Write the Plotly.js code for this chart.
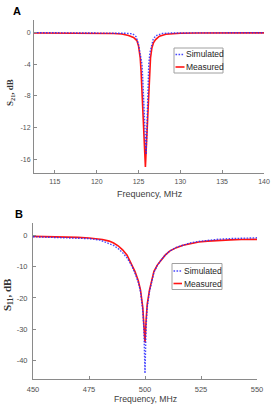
<!DOCTYPE html>
<html>
<head>
<meta charset="utf-8">
<script src="https://cdn.plot.ly/plotly-3.0.1.min.js"></script>
<style>
html,body{margin:0;padding:0;background:#fff;}
#chart{width:272px;height:409px;}
</style>
</head>
<body>
<div id="chart"></div>
<script>
// ---- Panel A: S21 ----
var freqA_sim = [112.5,118,122,123.5,124.3,124.7,125.0,125.2,125.41,125.5,125.6,125.72,125.82,125.9,125.98,126.05,126.1,126.16,126.22,126.35,126.55,126.75,127.04,127.85,129,132,140];
var s21_sim  = [0,-0.01,-0.03,-0.08,-0.15,-0.5,-1.5,-2.6,-4.0,-5.8,-8.2,-10.8,-12.9,-15.4,-12.9,-10.5,-8.2,-6.0,-4.0,-2.6,-1.5,-0.85,-0.4,-0.1,-0.04,-0.02,-0.01];
var freqA_meas = [112.5,116,120,122,123,123.8,124.4,124.8,125.0,125.2,125.3,125.4,125.5,125.6,125.7,125.82,125.95,126.06,126.15,126.22,126.32,126.43,126.6,126.8,127.04,127.5,128.26,129,130,132,136,140];
var s21_meas = [-0.05,-0.05,-0.06,-0.1,-0.18,-0.35,-0.6,-1.0,-1.7,-3.2,-4.8,-7.0,-9.0,-11.6,-14.0,-17.0,-14.0,-11.6,-9.2,-7.4,-5.0,-3.2,-1.9,-1.25,-0.88,-0.45,-0.2,-0.12,-0.08,-0.05,-0.04,-0.03];
var xTicksA = [115,120,125,130,135,140];
var xTickTextA = ['115','120','125','130','135','140'];
var yTicksA = [0,-4,-8,-12,-16];
var yTickTextA = ['0','-4','-8','-12','-16'];

// ---- Panel B: S11 ----
var freqB_sim = [450,460,470,475,480,484,486,488,490,492,494,495.5,497,498,499,499.5,500,500.5,501,502,503,504,505.5,507,509,511,514,517,520,524,528,533,538,543,550];
var s11_sim  = [-0.4,-0.55,-0.8,-1.0,-1.5,-2.5,-3.2,-4.2,-5.5,-7.2,-9.6,-12,-15,-18,-24,-30,-44.2,-29,-23,-18,-14.3,-11.8,-9.6,-8,-6.3,-5.0,-3.8,-3.0,-2.4,-1.9,-1.5,-1.2,-1.0,-0.85,-0.75];
var freqB_meas = [450,455,460,465,470,475,478,481,484,486,488,490,492,494,495.5,497,498,499,499.5,500,500.5,501,502,503,504,505.5,507,509,511,514,517,520,524,528,533,538,543,550];
var s11_meas = [-0.3,-0.35,-0.4,-0.5,-0.6,-0.8,-1.0,-1.3,-1.8,-2.4,-3.3,-4.6,-6.3,-9.0,-11.5,-14.5,-17.5,-23,-28,-34.3,-27,-22,-17.5,-14,-11.5,-9.5,-8,-6.3,-5.0,-3.9,-3.1,-2.6,-2.1,-1.8,-1.55,-1.4,-1.3,-1.25];
var xTicksB = [450,475,500,525,550];
var xTickTextB = ['450','475','500','525','550'];
var yTicksB = [0,-10,-20,-30,-40];
var yTickTextB = ['0','-10','-20','-30','-40'];

var seriesNames = ['Simulated','Measured'];
var panelLabels = ['A','B'];

var W = 272, H = 409;
function px(x){ return x / W; }
function py(y){ return 1 - y / H; }

var simStyle = {color:'rgba(40,40,255,0.85)', width:1.4, dash:'1.6px,1.4px'};
var measStyle = {color:'rgb(255,20,20)', width:1.6};

var traces = [
  {x:freqA_meas, y:s21_meas, type:'scatter', mode:'lines', name:seriesNames[1], line:measStyle, xaxis:'x', yaxis:'y', showlegend:false},
  {x:freqA_sim, y:s21_sim, type:'scatter', mode:'lines', name:seriesNames[0], line:simStyle, xaxis:'x', yaxis:'y', showlegend:false},
  {x:freqB_meas, y:s11_meas, type:'scatter', mode:'lines', name:seriesNames[1], line:measStyle, xaxis:'x2', yaxis:'y2', showlegend:false},
  {x:freqB_sim, y:s11_sim, type:'scatter', mode:'lines', name:seriesNames[0], line:simStyle, xaxis:'x2', yaxis:'y2', showlegend:false}
];

var axisCommon = {
  showline:true, linecolor:'#8a8a8a', linewidth:1,
  ticks:'inside', ticklen:3, tickcolor:'#8a8a8a', tickwidth:1,
  showgrid:false, zeroline:false, tickmode:'array',
  tickfont:{family:'Liberation Sans, Arial, sans-serif', size:7, color:'#505050'},
  fixedrange:true
};
function ax(extra){ var o = {}; for (var k in axisCommon) o[k]=axisCommon[k]; for (var k2 in extra) o[k2]=extra[k2]; return o; }

var titleFont = {family:'Liberation Sans, Arial, sans-serif', size:9, color:'#404040'};
var legFont = {family:'Liberation Sans, Arial, sans-serif', size:8.5, color:'#262626'};

var annotations = [
  {text:'<b>'+panelLabels[0]+'</b>', xref:'paper', yref:'paper', x:px(17), y:py(11), showarrow:false, font:{family:'Liberation Sans, Arial, sans-serif', size:11, color:'#000'}, xanchor:'center', yanchor:'middle'},
  {text:'<b>'+panelLabels[1]+'</b>', xref:'paper', yref:'paper', x:px(19), y:py(213.5), showarrow:false, font:{family:'Liberation Sans, Arial, sans-serif', size:11, color:'#000'}, xanchor:'center', yanchor:'middle'},
  {text:'<b>S<sub>21</sub>, dB</b>', xref:'paper', yref:'paper', x:px(10), y:py(93), textangle:-90, showarrow:false, font:{family:'Liberation Serif, Times New Roman, serif', size:9, color:'#333'}, xanchor:'center', yanchor:'middle'},
  {text:'<b>S<sub>11</sub>, dB</b>', xref:'paper', yref:'paper', x:px(8), y:py(295), textangle:-90, showarrow:false, font:{family:'Liberation Serif, Times New Roman, serif', size:11, color:'#333'}, xanchor:'center', yanchor:'middle'},
  {text:'Frequency, MHz', xref:'paper', yref:'paper', x:px(150), y:py(194), showarrow:false, font:titleFont, xanchor:'center', yanchor:'middle'},
  {text:'Frequency, MHz', xref:'paper', yref:'paper', x:px(145), y:py(399), showarrow:false, font:{family:titleFont.family, size:8.7, color:'#404040'}, xanchor:'center', yanchor:'middle'},
  {text:seriesNames[0], xref:'paper', yref:'paper', x:px(185), y:py(54.5), showarrow:false, font:legFont, xanchor:'left', yanchor:'middle'},
  {text:seriesNames[1], xref:'paper', yref:'paper', x:px(185), y:py(67), showarrow:false, font:legFont, xanchor:'left', yanchor:'middle'},
  {text:seriesNames[0], xref:'paper', yref:'paper', x:px(182.5), y:py(271), showarrow:false, font:legFont, xanchor:'left', yanchor:'middle'},
  {text:seriesNames[1], xref:'paper', yref:'paper', x:px(182.5), y:py(283.5), showarrow:false, font:legFont, xanchor:'left', yanchor:'middle'}
];
annotations.forEach(function(a){ a.borderpad = 0; });

var shapes = [
  {type:'rect', xref:'paper', yref:'paper', x0:px(174), x1:px(223), y0:py(48), y1:py(73), line:{color:'#a0a0a0', width:1}, fillcolor:'#fff', layer:'above'},
  {type:'line', xref:'paper', yref:'paper', x0:px(175.5), x1:px(184.5), y0:py(54.5), y1:py(54.5), line:simStyle, layer:'above'},
  {type:'line', xref:'paper', yref:'paper', x0:px(175.5), x1:px(184.5), y0:py(67), y1:py(67), line:measStyle, layer:'above'},
  {type:'rect', xref:'paper', yref:'paper', x0:px(172), x1:px(222), y0:py(263.5), y1:py(289.5), line:{color:'#a0a0a0', width:1}, fillcolor:'#fff', layer:'above'},
  {type:'line', xref:'paper', yref:'paper', x0:px(173.5), x1:px(182), y0:py(271), y1:py(271), line:simStyle, layer:'above'},
  {type:'line', xref:'paper', yref:'paper', x0:px(173.5), x1:px(182), y0:py(283.5), y1:py(283.5), line:measStyle, layer:'above'}
];

var layout = {
  width:W, height:H,
  margin:{l:0,r:0,t:0,b:0,pad:0},
  paper_bgcolor:'#fff', plot_bgcolor:'#fff',
  showlegend:false,
  xaxis: ax({domain:[px(34), px(264)], range:[112.5,140], tickvals:xTicksA, ticktext:xTickTextA, anchor:'y', ticklabelstandoff:2}),
  yaxis: ax({domain:[py(173), py(20)], range:[-17.75,1.6], tickvals:yTicksA, ticktext:yTickTextA, anchor:'x', ticklabelstandoff:1}),
  xaxis2: ax({domain:[px(33), px(257)], range:[450,550], tickvals:xTicksB, ticktext:xTickTextB, anchor:'y2', ticklabelstandoff:3, tickfont:{family:'Liberation Sans, Arial, sans-serif', size:7.5, color:'#505050'}}),
  yaxis2: ax({domain:[py(379), py(223)], range:[-46,4], tickvals:yTicksB, ticktext:yTickTextB, anchor:'x2', ticklabelstandoff:3, tickfont:{family:'Liberation Sans, Arial, sans-serif', size:7.5, color:'#505050'}}),
  annotations:annotations,
  shapes:shapes
};

Plotly.newPlot('chart', traces, layout, {displayModeBar:false, staticPlot:true});
</script>
</body>
</html>
